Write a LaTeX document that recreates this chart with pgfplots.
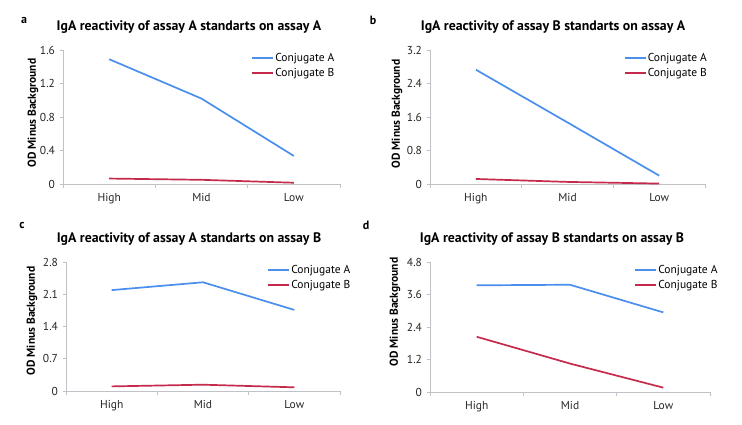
\documentclass[border=0pt]{standalone}
\usepackage{pgfplots}
\pgfplotsset{compat=1.18}
\usepackage{fontspec}
\setmainfont{PT Sans}
\definecolor{cA}{HTML}{4A8FEE}
\definecolor{cB}{HTML}{C52A4C}
\definecolor{axgray}{HTML}{BFC3C7}
\newcommand{\tfont}{\fontsize{11.5bp}{13bp}\selectfont}
\pgfplotsset{
  panel/.style={
    scale only axis,
    xmin=0.5, xmax=3.5,
    xtick={1,2,3}, xticklabels={High,Mid,Low},
    minor xtick={0.5,1.5,2.5,3.5},
    major x tick style={draw=none},
    minor x tick style={axgray, line width=0.8bp},
    y tick style={axgray, line width=0.8bp},
    major tick length=3.5bp, minor tick length=4bp,
    tick align=outside,
    axis x line*=bottom, axis y line*=left,
    axis line style={axgray, line width=0.8bp, -},
    ticklabel style={font=\tfont, text=black!85},
    x tick label style={yshift=-2bp},
    y tick label style={xshift=-1bp},
    ymin=0,
    clip=false,
    legend cell align=left,
    legend style={draw=none, fill=none, font=\tfont, inner sep=0pt, row sep=3.5bp,
      nodes={inner xsep=1bp, inner ysep=1bp}},
    legend image code/.code={\draw[##1] plot coordinates {(0bp,0bp) (21bp,0bp)};},
  },
  lA/.style={cA, line width=1.7bp},
  lB/.style={cB, line width=1.7bp},
}
\begin{document}
\begin{tikzpicture}[x=1bp,y=1bp]
\path[use as bounding box, fill=white] (0,0) rectangle (742,424);
% panel a
\begin{axis}[panel, at={(63bp,240bp)}, anchor=south west, width=277bp, height=134bp,
  ymax=1.6, ytick={0,0.4,0.8,1.2,1.6}, yticklabels={0,0.4,0.8,1.2,1.6},
  legend style={at={(0.68,0.985)}, anchor=north west}]
\addplot[lA] coordinates {(1,1.49) (2,1.02) (3,0.335)};
\addlegendentry{Conjugate A}
\addplot[lB] coordinates {(1,0.065) (2,0.05) (3,0.015)};
\addlegendentry{Conjugate B}
\end{axis}
% panel b
\begin{axis}[panel, at={(430bp,240bp)}, anchor=south west, width=275bp, height=134bp,
  ymax=3.2, ytick={0,0.8,1.6,2.4,3.2}, yticklabels={0,0.8,1.6,2.4,3.2},
  legend style={at={(0.705,0.985)}, anchor=north west}]
\addplot[lA] coordinates {(1,2.73) (2,1.47) (3,0.20)};
\addlegendentry{Conjugate A}
\addplot[lB] coordinates {(1,0.12) (2,0.05) (3,0.01)};
\addlegendentry{Conjugate B}
\end{axis}
% panel c
\begin{axis}[panel, at={(66bp,33bp)}, anchor=south west, width=274bp, height=129bp,
  ymax=2.8, ytick={0,0.7,1.4,2.1,2.8}, yticklabels={0,0.7,1.4,2.1,2.8},
  legend style={at={(0.735,0.985)}, anchor=north west}]
\addplot[lA] coordinates {(1,2.19) (2,2.36) (3,1.76)};
\addlegendentry{Conjugate A}
\addplot[lB] coordinates {(1,0.10) (2,0.137) (3,0.08)};
\addlegendentry{Conjugate B}
\end{axis}
% panel d
\begin{axis}[panel, at={(430bp,32bp)}, anchor=south west, width=280bp, height=130bp,
  ymax=4.8, ytick={0,1.2,2.4,3.6,4.8}, yticklabels={0,1.2,2.4,3.6,4.8},
  legend style={at={(0.73,0.985)}, anchor=north west}]
\addplot[lA] coordinates {(1,3.94) (2,3.96) (3,2.94)};
\addlegendentry{Conjugate A}
\addplot[lB] coordinates {(1,2.04) (2,1.05) (3,0.16)};
\addlegendentry{Conjugate B}
\end{axis}
% panel letters
\begin{scope}[every node/.style={font=\bfseries\fontsize{12bp}{14bp}\selectfont, inner sep=0pt}]
\node at (24,404) {a};
\node at (373,404) {b};
\node at (22,199) {c};
\node at (366,199) {d};
\end{scope}
% titles
\begin{scope}[every node/.style={font=\bfseries\fontsize{13.8bp}{15bp}\selectfont, inner sep=0pt}]
\node at (189,397) {IgA reactivity of assay A standarts on assay A};
\node at (553,397) {IgA reactivity of assay B standarts on assay A};
\node at (189,185) {IgA reactivity of assay A standarts on assay B};
\node at (552,185) {IgA reactivity of assay B standarts on assay B};
\end{scope}
% y labels
\begin{scope}[every node/.style={font=\bfseries\fontsize{11.5bp}{13bp}\selectfont, inner sep=0pt, rotate=90}]
\node at (33,311) {OD Minus Background};
\node at (397,310) {OD Minus Background};
\node at (32,103) {OD Minus Background};
\node at (395,112) {OD Minus Background};
\end{scope}
\end{tikzpicture}
\end{document}
